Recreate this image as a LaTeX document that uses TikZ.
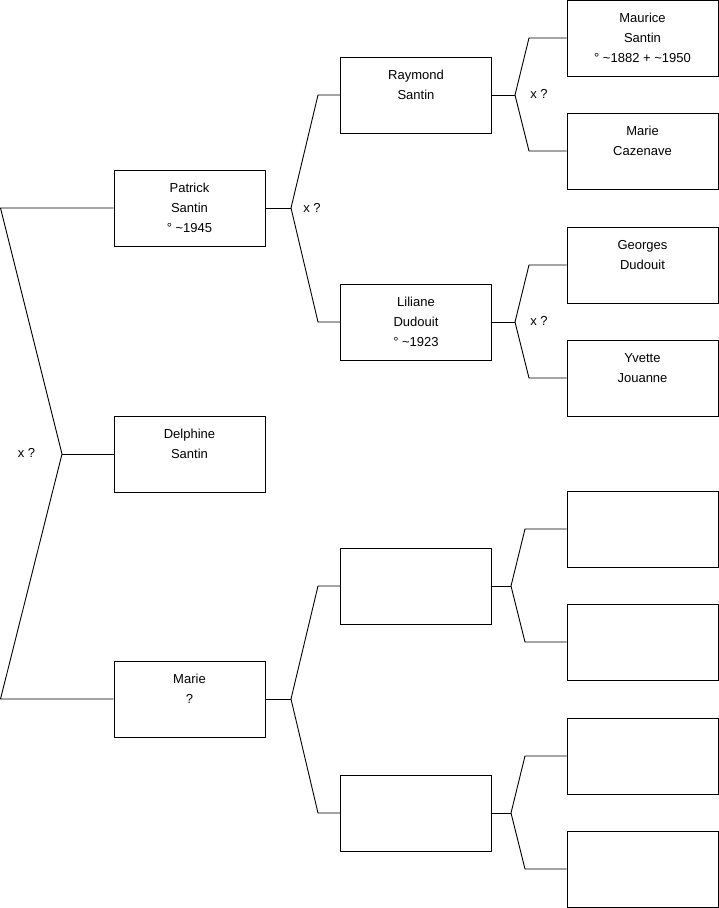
\documentclass[tikz,border=0pt]{standalone}
\usepackage{fontspec}
\setmainfont{Liberation Sans}
\begin{document}
\begin{tikzpicture}[x=1pt,y=-1pt,
  person/.style={draw, line width=0.9pt, minimum width=151pt, minimum height=76pt, inner sep=0pt, align=center, font=\fontsize{13}{20}\selectfont},
  link/.style={line width=0.9pt},
  lbl/.style={font=\fontsize{13}{20}\selectfont, inner sep=0pt}]
\useasboundingbox (0,0) rectangle (719,908);
% generation 1
\node[person] (patrick)  at (189.5,208) {\strut Patrick\\\strut Santin\\\strut ° \textasciitilde1945};
\node[person] (delphine) at (189.5,454) {\strut Delphine\\\strut Santin\\\strut};
\node[person] (marie)    at (189.5,699) {\strut Marie\\\strut ?\\\strut};
% generation 2
\node[person] (raymond) at (416,95)  {\strut Raymond\\\strut Santin\\\strut};
\node[person] (liliane) at (416,322) {\strut Liliane\\\strut Dudouit\\\strut ° \textasciitilde1923};
\node[person] (ea) at (416,586) {};
\node[person] (eb) at (416,813) {};
% generation 3
\node[person] (maurice)  at (642.5,38)  {\strut Maurice\\\strut Santin\\\strut ° \textasciitilde1882 + \textasciitilde1950};
\node[person] (cazenave) at (642.5,151) {\strut Marie\\\strut Cazenave\\\strut};
\node[person] (georges)  at (642.5,265) {\strut Georges\\\strut Dudouit\\\strut};
\node[person] (yvette)   at (642.5,378) {\strut Yvette\\\strut Jouanne\\\strut};
\node[person] (ec) at (642.5,529) {};
\node[person] (ed) at (642.5,642) {};
\node[person] (ee) at (642.5,756) {};
\node[person] (ef) at (642.5,869) {};
% junction coordinates
\coordinate (t0) at (0.5,208);
\coordinate (j0) at (62,454);
\coordinate (b0) at (0.5,699);
\coordinate (j1) at (291,208);
\coordinate (j1a) at (318,95);
\coordinate (j1b) at (318,322);
\coordinate (j2) at (291,699);
\coordinate (j2a) at (318,586);
\coordinate (j2b) at (318,813);
\coordinate (k1) at (515,95);
\coordinate (k1a) at (529,38);
\coordinate (k1b) at (529,151);
\coordinate (k2) at (515,322);
\coordinate (k2a) at (529,265);
\coordinate (k2b) at (529,378);
\coordinate (k3) at (511,586);
\coordinate (k3a) at (525,529);
\coordinate (k3b) at (525,642);
\coordinate (k4) at (511,813);
\coordinate (k4a) at (525,756);
\coordinate (k4b) at (525,869);
% connectors
\draw[link] (patrick.west) -- (t0) -- (j0) -- (b0) -- (marie.west);
\draw[link] (j0) -- (delphine.west);
\draw[link] (patrick.east) -- (j1);
\draw[link] (j1) -- (j1a) -- (raymond.west);
\draw[link] (j1) -- (j1b) -- (liliane.west);
\draw[link] (marie.east) -- (j2);
\draw[link] (j2) -- (j2a) -- (ea.west);
\draw[link] (j2) -- (j2b) -- (eb.west);
\draw[link] (raymond.east) -- (k1);
\draw[link] (k1) -- (k1a) -- (maurice.west);
\draw[link] (k1) -- (k1b) -- (cazenave.west);
\draw[link] (liliane.east) -- (k2);
\draw[link] (k2) -- (k2a) -- (georges.west);
\draw[link] (k2) -- (k2b) -- (yvette.west);
\draw[link] (ea.east) -- (k3);
\draw[link] (k3) -- (k3a) -- (ec.west);
\draw[link] (k3) -- (k3b) -- (ed.west);
\draw[link] (eb.east) -- (k4);
\draw[link] (k4) -- (k4a) -- (ee.west);
\draw[link] (k4) -- (k4b) -- (ef.west);
% marriage labels
\node[lbl] (m0) at (26.5,452.7) {x ?};
\node[lbl] (m1) at (312,207.7) {x ?};
\node[lbl] (m2) at (539,93.5) {x ?};
\node[lbl] (m3) at (539,320.5) {x ?};
\end{tikzpicture}
\end{document}
